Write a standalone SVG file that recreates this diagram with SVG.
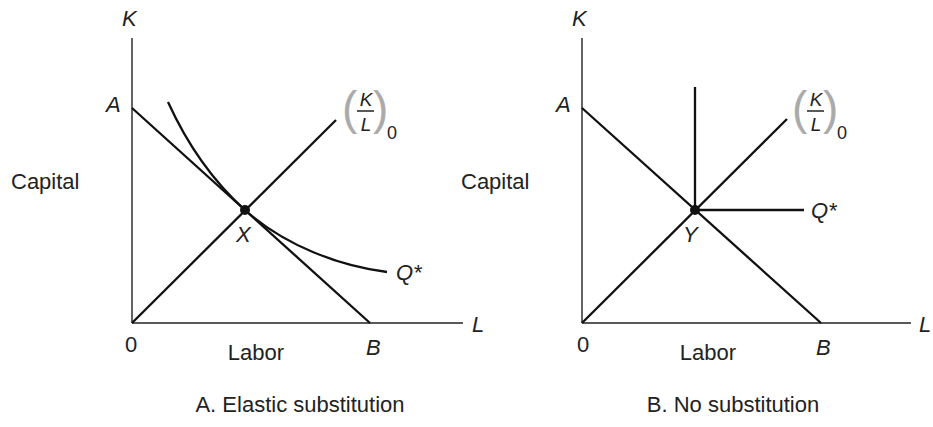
<svg xmlns="http://www.w3.org/2000/svg" width="933" height="427" viewBox="0 0 933 427">
<style>
.ax{stroke:#222;stroke-width:1.4;fill:none}
.ln{stroke:#111;stroke-width:2.3;fill:none;stroke-linecap:butt}
.t{font-family:"Liberation Sans",Arial,sans-serif;font-size:22px;fill:#222}
.m{text-anchor:middle}
.i{font-family:"Liberation Sans",Arial,sans-serif;font-size:22px;font-style:italic;fill:#222}
.f{font-family:"Liberation Sans",Arial,sans-serif;font-size:19px;font-style:italic;fill:#222;text-anchor:middle}
.p{font-family:"Liberation Sans",Arial,sans-serif;font-size:46px;fill:#aaa}
.s{font-family:"Liberation Sans",Arial,sans-serif;font-size:18px;fill:#222}
</style>
<rect width="933" height="427" fill="#fff"/>
<g id="panelA">
  <g id="axesA">
    <line class="ax" x1="132" y1="38" x2="132" y2="323"/>
    <line class="ax" x1="132" y1="323" x2="463" y2="323"/>
  </g>
  <g id="connectorsA">
    <line class="ln" x1="132" y1="108" x2="370" y2="323"/>
    <line class="ln" x1="132" y1="323" x2="336" y2="120"/>
    <path class="ln" d="M168,102 C188,146 215,183 245,210 C285,246 340,266 387,272"/>
  </g>
  <g id="pointX"><circle cx="245" cy="210" r="5" fill="#111"/></g>
  <g id="labelsA">
    <text class="i" x="122" y="26">K</text>
    <text class="i" x="106" y="112">A</text>
    <text class="t" x="11" y="189">Capital</text>
    <text class="t" x="125" y="352">0</text>
    <text class="t m" x="256" y="360">Labor</text>
    <text class="i" x="366" y="355">B</text>
    <text class="i" x="472" y="332">L</text>
    <text class="i" x="236" y="242">X</text>
    <text class="i" x="396" y="280">Q*</text>
    <text class="p" x="342" y="124">(</text>
    <text class="f" x="366" y="106">K</text>
    <line x1="357" y1="111" x2="374" y2="111" stroke="#222" stroke-width="1.5"/>
    <text class="f" x="366" y="131">L</text>
    <text class="p" x="373" y="124">)</text>
    <text class="s" x="387" y="139">0</text>
    <text class="t m" x="300" y="412">A. Elastic substitution</text>
  </g>
</g>
<g id="panelB">
  <g id="axesB">
    <line class="ax" x1="582" y1="38" x2="582" y2="323"/>
    <line class="ax" x1="582" y1="323" x2="911" y2="323"/>
  </g>
  <g id="connectorsB">
    <line class="ln" x1="582" y1="108" x2="821" y2="323"/>
    <line class="ln" x1="582" y1="323" x2="787" y2="119"/>
    <line class="ln" x1="695" y1="87" x2="695" y2="210"/>
    <line class="ln" x1="695" y1="210" x2="804" y2="210"/>
  </g>
  <g id="pointY"><circle cx="695" cy="210" r="5" fill="#111"/></g>
  <g id="labelsB">
    <text class="i" x="572" y="26">K</text>
    <text class="i" x="556" y="112">A</text>
    <text class="t" x="461" y="189">Capital</text>
    <text class="t" x="577" y="352">0</text>
    <text class="t m" x="708" y="360">Labor</text>
    <text class="i" x="816" y="355">B</text>
    <text class="i" x="919" y="332">L</text>
    <text class="i" x="683" y="242">Y</text>
    <text class="i" x="811" y="218">Q*</text>
    <text class="p" x="792" y="124">(</text>
    <text class="f" x="816" y="106">K</text>
    <line x1="807" y1="111" x2="824" y2="111" stroke="#222" stroke-width="1.5"/>
    <text class="f" x="816" y="131">L</text>
    <text class="p" x="823" y="124">)</text>
    <text class="s" x="837" y="139">0</text>
    <text class="t m" x="733" y="412">B. No substitution</text>
  </g>
</g>
</svg>
